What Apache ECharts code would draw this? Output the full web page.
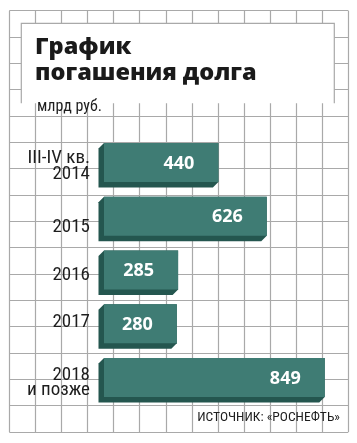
<!DOCTYPE html>
<html><head><meta charset="utf-8">
<script src="https://cdn.jsdelivr.net/npm/echarts@6/dist/echarts.min.js"></script>
<style>html,body{margin:0;padding:0;background:#fff}#c{width:357px;height:443px}</style>
</head><body><div id="c"></div>
<script>
const categories = ['III-IV кв.\n2014', '2015', '2016', '2017', '2018\nи позже'];
const values = [440, 626, 285, 280, 849];
const titleText = 'График\nпогашения долга';
const unitText = 'млрд руб.';
const sourceText = 'ИСТОЧНИК: «РОСНЕФТЬ»';

const FRONT = '#3f7c74', SIDE = '#24564f', GRIDC = '#a9a9a9';
const NARROW = '"Liberation Sans Narrow", "Roboto Condensed", Roboto, sans-serif';

// per-label vertical nudges (rich styles), the reference labels are not exactly band-centred
const labelRich = {
  l0: {padding: [15, 0, 0, 0], lineHeight: 23},
  t0: {lineHeight: 23},
  l1: {padding: [22, 0, 0, 0], lineHeight: 22},
  l2: {padding: [11, 0, 0, 0], lineHeight: 22},
  l3: {padding: [0, 0, 3, 0], lineHeight: 22},
  l4: {padding: [22, 0, 0, 0], lineHeight: 26},
  t4: {lineHeight: 26}
};

const chart = echarts.init(document.getElementById('c'), null, {renderer: 'canvas'});
chart.setOption({
  animation: false,
  grid: [
    {left: 104, right: 19, top: 135.6, bottom: 38.6},
    {left: 9.3, right: 8.7, top: 10.7, bottom: 11}
  ],
  xAxis: [
    {type: 'value', min: 0, max: 900, show: false, gridIndex: 0},
    {type: 'value', min: 0, max: 13, interval: 1, gridIndex: 1,
     axisLine: {show: false}, axisTick: {show: false}, axisLabel: {show: false},
     splitLine: {show: true, lineStyle: {color: GRIDC, width: 1.2}}}
  ],
  yAxis: [
    {type: 'category', data: categories, inverse: true, gridIndex: 0,
     axisLine: {show: false}, axisTick: {show: false}, splitLine: {show: false},
     axisLabel: {margin: 14, fontSize: 19, fontFamily: NARROW, color: '#1e1e1e', lineHeight: 22,
       formatter: function (val, idx) {
         const lines = val.split('\n');
         return lines.map((s, k) => '{' + (k === 0 ? 'l' : 't') + idx + '|' + s + '}').join('\n');
       },
       rich: labelRich}},
    {type: 'value', min: 0, max: 16, interval: 1, gridIndex: 1,
     axisLine: {show: false}, axisTick: {show: false}, axisLabel: {show: false},
     splitLine: {show: true, lineStyle: {color: GRIDC, width: 1.2}}}
  ],
  graphic: [
    {type: 'rect', z: 10, shape: {x: 21.3, y: 23.3, width: 313, height: 80}, style: {fill: '#fff'}},
    {type: 'polyline', z: 11, shape: {points: [[21.3, 103.3], [21.3, 23.3], [334.3, 23.3], [334.3, 103.3]]},
     style: {stroke: GRIDC, lineWidth: 1.2, fill: null}},
    {type: 'text', z: 12, x: 35, y: 34, style: {text: titleText, font: '800 23.5px "Open Sans", sans-serif',
     fill: '#1a1a1a', lineHeight: 26.5}},
    {type: 'text', z: 12, x: 37, y: 99, style: {text: unitText, font: '16px ' + NARROW, fill: '#1e1e1e'}},
    {type: 'text', z: 12, x: 340, y: 411, style: {text: sourceText, font: '13.5px ' + NARROW, fill: '#1e1e1e', align: 'right'}}
  ],
  series: [{
    type: 'custom', xAxisIndex: 0, yAxisIndex: 0, z: 20,
    data: values.map((v, i) => [v, i]),
    renderItem: function (params, api) {
      const v = api.value(0), c = api.value(1);
      const p0 = api.coord([0, c]), p1 = api.coord([v, c]);
      const band = api.size([0, 1])[1];
      const h = band * 0.725, d = 5.5;
      const x0 = p0[0], x1 = p1[0], y0 = p0[1] - h / 2, y1 = p0[1] + h / 2;
      return {type: 'group', children: [
        {type: 'polygon', shape: {points: [[x0, y0], [x1, y0], [x1, y1], [x1 - d, y1 + d], [x0 - d, y1 + d], [x0 - d, y0 + d]]},
         style: {fill: SIDE}},
        {type: 'rect', shape: {x: x0, y: y0, width: x1 - x0, height: h}, style: {fill: FRONT}},
        {type: 'text', style: {text: String(values[params.dataIndex]), x: x1 - 24, y: p0[1] + 1, align: 'right',
         verticalAlign: 'middle', fill: '#fff', font: 'bold 18px "Open Sans", sans-serif'}}
      ]};
    }
  }]
});
</script></body></html>
